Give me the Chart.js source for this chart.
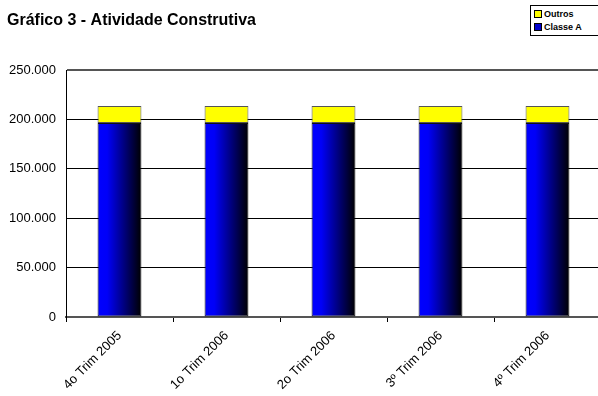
<!DOCTYPE html>
<html>
<head>
<meta charset="utf-8">
<script src="https://cdn.jsdelivr.net/npm/chart.js@4.4.1/dist/chart.umd.min.js"></script>
<style>
    html, body { margin: 0; padding: 0; background: #fff; overflow: hidden; }
    body { width: 598px; height: 396px; position: relative; }
    .wrap { position: absolute; left: 0; top: 0; width: 604px; height: 396px; }
    .legend {
        position: absolute; left: 530px; top: 5px; width: 74px; height: 31px;
        border: 1px solid #000; background: #fff; box-sizing: border-box;
        font: bold 9px 'Liberation Sans', Arial, sans-serif; color: #000;
        padding: 2px 0 0 3px;
    }
    .legend div { height: 13px; line-height: 13px; white-space: nowrap; }
    .legend span {
        display: inline-block; width: 6px; height: 6px; border: 1px solid #000;
        margin-right: 2px; vertical-align: -1px;
    }
</style>
</head>
<body>
<div class="wrap"><canvas id="chart" width="604" height="396"></canvas></div>
<div class="legend" id="legend"></div>
<script>
// dados
const categorias = ['4o Trim 2005', '1o Trim 2006', '2o Trim 2006', '3º Trim 2006', '4º Trim 2006'];
const classeA = [196500, 196500, 196500, 196500, 196500];
const outros = [17300, 17300, 17300, 17300, 17300];
const yTicks = [0, 50000, 100000, 150000, 200000, 250000];

const FONT = "'Liberation Sans', Arial, sans-serif";

const fmt = v => String(v).replace(/\B(?=(\d{3})+(?!\d))/g, '.');

// gradiente azul -> preto em cada barra
function blueShade(ctx) {
    const chart = ctx.chart;
    const x = chart.scales.x;
    if (!chart.chartArea || !x) return '#0000ff';
    const cx = x.getPixelForValue(ctx.dataIndex);
    const w = (x.width / categorias.length) * 0.41;
    const g = chart.ctx.createLinearGradient(cx - w / 2, 0, cx + w / 2, 0);
    g.addColorStop(0, '#0000ff');
    g.addColorStop(0.22, '#0000f8');
    g.addColorStop(1, '#000000');
    return g;
}

const datasets = [
    { label: 'Classe A', data: classeA, backgroundColor: blueShade, legendColor: '#0000cc', borderColor: '#111', borderWidth: 1 },
    { label: 'Outros', data: outros, backgroundColor: '#ffff00', legendColor: '#ffff00', borderColor: '#555', borderWidth: 1 }
];

document.getElementById('legend').innerHTML = datasets.slice().reverse()
    .map(d => `<div><span style="background:${d.legendColor}"></span>${d.label}</div>`).join('');

new Chart(document.getElementById('chart'), {
    type: 'bar',
    data: {
        labels: categorias,
        datasets: datasets.map(d => ({
            label: d.label, data: d.data, backgroundColor: d.backgroundColor,
            borderColor: d.borderColor, borderWidth: d.borderWidth,
            categoryPercentage: 1, barPercentage: 0.41, borderSkipped: false
        }))
    },
    options: {
        responsive: false,
        animation: false,
        layout: { padding: { left: 7, right: 3, top: 0, bottom: 0 } },
        plugins: {
            legend: { display: false },
            tooltip: { enabled: false },
            title: {
                display: true,
                text: 'Gráfico 3 - Atividade Construtiva',
                align: 'start',
                color: '#000',
                font: { family: FONT, size: 16, weight: 'bold' },
                padding: { top: 11, bottom: 40 }
            }
        },
        scales: {
            x: {
                stacked: true,
                afterFit: s => { s.height = 79; },
                grid: { offset: true, drawOnChartArea: false, drawTicks: true, tickLength: 5, color: '#000' },
                border: { color: '#555', width: 2 },
                ticks: {
                    maxRotation: 45, minRotation: 45, padding: 6, color: '#000',
                    font: { family: FONT, size: 13 }
                }
            },
            y: {
                stacked: true,
                min: 0, max: 250000,
                afterFit: s => { s.width = 59; },
                afterBuildTicks: s => { s.ticks = yTicks.map(v => ({ value: v })); },
                grid: {
                    drawTicks: false,
                    color: c => c.tick && c.tick.value === 250000 ? '#555' : '#000',
                    lineWidth: c => c.tick && c.tick.value === 250000 ? 2 : 1
                },
                border: { color: '#000', width: 1 },
                ticks: {
                    padding: 10, color: '#000',
                    font: { family: FONT, size: 13 },
                    callback: v => fmt(v)
                }
            }
        }
    }
});
</script>
</body>
</html>
